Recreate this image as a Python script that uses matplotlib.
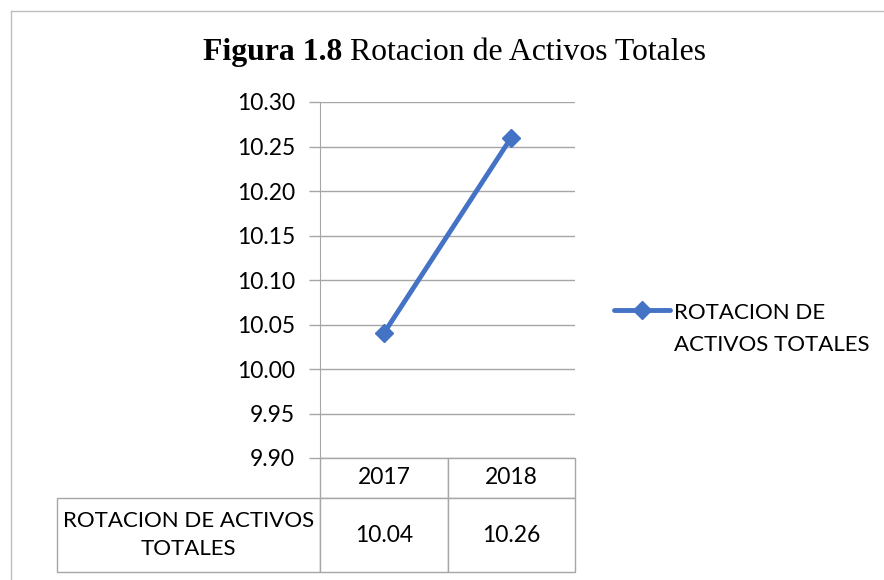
import matplotlib
matplotlib.use("Agg")
import matplotlib.pyplot as plt
from matplotlib.lines import Line2D

# data
years = ["2017", "2018"]
rotacion = [10.04, 10.26]
legend_label = "ROTACION DE\nACTIVOS TOTALES"
row_label = "ROTACION DE ACTIVOS\nTOTALES"
yticks = [9.90, 9.95, 10.00, 10.05, 10.10, 10.15, 10.20, 10.25, 10.30]

blue = "#4472C4"
gray = "#A6A6A6"
plt.rcParams["font.family"] = ["Lato", "DejaVu Sans"]
fs = 16.5

W, H = 884, 580
fig = plt.figure(figsize=(W / 100, H / 100), dpi=100)

# outer chart border (top and left only visible)
fig.add_artist(Line2D([11 / W, 11 / W], [0, 1 - 11 / H], transform=fig.transFigure,
                      color="#BFBFBF", lw=1))
fig.add_artist(Line2D([11 / W, 1], [1 - 11 / H, 1 - 11 / H], transform=fig.transFigure,
                      color="#BFBFBF", lw=1))

ax = fig.add_axes([320 / W, 1 - 458 / H, 255 / W, 356 / H])
x = [i + 0.5 for i in range(len(years))]
ax.plot(x, rotacion, color=blue, lw=3.5, marker="D", markersize=9.5,
        markeredgecolor=blue, label=legend_label, solid_capstyle="round")
ax.set_xlim(0, len(years))
ax.set_ylim(9.90, 10.30)
ax.set_yticks(yticks)
ax.set_yticklabels([f"{v:.2f}" for v in yticks])
ax.set_xticks([])
ax.grid(axis="y", color=gray, lw=1)
ax.set_axisbelow(True)
for s in ["top", "right", "bottom"]:
    ax.spines[s].set_visible(False)
ax.spines["left"].set_color(gray)
ax.tick_params(axis="y", length=8, width=1, color=gray, pad=10, labelsize=fs)

# data table (bbox covers the value grid; the row-label column hangs to the left)
tbl = ax.table(cellText=[[f"{v:.2f}" for v in rotacion]],
               rowLabels=[row_label], colLabels=years,
               cellLoc="center", rowLoc="center",
               colWidths=[128 / 255, 127 / 255],
               bbox=[0, -114 / 356, 1, 114 / 356])
tbl._autoColumns = []
tbl.auto_set_font_size(False)
tbl.set_fontsize(fs)
for (r, c), cell in tbl.get_celld().items():
    cell.set_edgecolor(gray)
    cell.set_linewidth(1)
    cell.set_height(40 / 356 if r == 0 else 74 / 356)
    if c == -1:
        cell.set_width(263 / 255)
        cell.get_text().set_fontsize(16)
        cell.get_text().set_linespacing(1.5)

# legend
leg = fig.legend(loc="center left", bbox_to_anchor=(614 / W, 1 - 329 / H), frameon=False,
                 fontsize=16, handlelength=2.5, handletextpad=0.2,
                 borderpad=0, borderaxespad=0)
leg.get_texts()[0].set_linespacing(1.8)
for col in leg._legend_handle_box.get_children():
    for row in col.get_children():
        row.align = "top"

# title
t1 = fig.text(203 / W, 1 - 67 / H, "Figura 1.8", family="Liberation Serif",
              fontweight="bold", fontsize=22.9, ha="left", va="bottom")
ax.annotate(" Rotacion de Activos Totales", xy=(1, 0), xycoords=t1,
            family="Liberation Serif", fontsize=22.9, ha="left", va="bottom",
            annotation_clip=False)

fig.savefig("out.png", dpi=100)
